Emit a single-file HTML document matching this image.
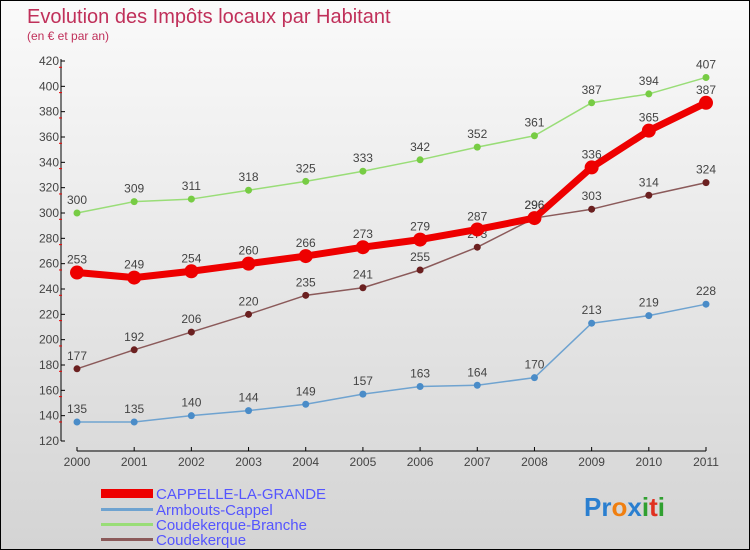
<!DOCTYPE html>
<html><head><meta charset="utf-8"><style>
body{margin:0}
#c{width:748px;height:548px;border:1px solid #000;background:linear-gradient(#fafafa,#d4d4d4);position:relative;font-family:"Liberation Sans",sans-serif;overflow:hidden}
</style></head><body>
<div id="c">
<svg id="s" width="748" height="548" xmlns="http://www.w3.org/2000/svg">
<text x="26" y="22" font-size="20" fill="#c0305a">Evolution des Impôts locaux par Habitant</text>
<text x="26" y="39" font-size="12" fill="#c0305a">(en € et par an)</text>
<g id="axes"></g><g id="series"></g>
<g font-size="15" fill="#5555ff">
<rect x="100" y="488" width="52" height="9" fill="#e00"/>
<text x="155" y="498">CAPPELLE-LA-GRANDE</text>
<rect x="100" y="507" width="52" height="3" fill="#6fa3d0"/>
<text x="155" y="514">Armbouts-Cappel</text>
<rect x="100" y="522" width="52" height="3" fill="#99dd77"/>
<text x="155" y="529">Coudekerque-Branche</text>
<rect x="100" y="537" width="52" height="3" fill="#8b5a5a"/>
<text x="155" y="544">Coudekerque</text>
</g>
<text x="583" y="515" font-size="26" font-weight="bold"><tspan fill="#2a7fd0">Pr</tspan><tspan fill="#f07f10">o</tspan><tspan fill="#2a7fd0">x</tspan><tspan fill="#30a030">i</tspan><tspan fill="#e03020">t</tspan><tspan fill="#30a030">i</tspan></text>
</svg></div>
<script>
const years=[2000,2001,2002,2003,2004,2005,2006,2007,2008,2009,2010,2011];
const cappelle=[253,249,254,260,266,273,279,287,296,336,365,387];
const armbouts=[135,135,140,144,149,157,163,164,170,213,219,228];
const branche=[300,309,311,318,325,333,342,352,361,387,394,407];
const coudekerque=[177,192,206,220,235,241,255,273,296,303,314,324];
const yTicks=[120,140,160,180,200,220,240,260,280,300,320,340,360,380,400,420];
const NS="http://www.w3.org/2000/svg";
const X=i=>76+i*(705-76)/11;
const Y=v=>440-(v-120)*(440-60)/300;
function mk(t,a,p){const e=document.createElementNS(NS,t);for(const k in a)e.setAttribute(k,a[k]);p.appendChild(e);return e;}
const ax=document.getElementById('axes');
let l=mk('line',{x1:60,y1:58,x2:60,y2:440,stroke:'#000'},ax);


l=mk('line',{x1:76,y1:450,x2:705,y2:450,stroke:'#000'},ax);


yTicks.forEach((v,k)=>{
 mk('line',{x1:60,y1:Y(v),x2:64,y2:Y(v),stroke:'#000'},ax);
 if(k>0) mk('line',{x1:58,y1:Y(v)+6.3,x2:61,y2:Y(v)+6.3,stroke:'#e00'},ax);
 const t=mk('text',{x:58,y:Y(v)+4,'text-anchor':'end','font-size':12,fill:'#444'},ax);
 t.textContent=v;
 
 
});
years.forEach((y,i)=>{
 mk('line',{x1:X(i),y1:446,x2:X(i),y2:450,stroke:'#000'},ax);
 const t=mk('text',{x:X(i),y:465,'text-anchor':'middle','font-size':12,fill:'#444'},ax);
 t.textContent=y;
 
 
});
const sg=document.getElementById('series');
function series(d,col,w,r,dot,name){
 const g=mk('g',{},sg);
 
 
 const p=mk('polyline',{points:d.map((v,i)=>X(i)+','+Y(v)).join(' '),fill:'none',stroke:col,'stroke-width':w,'stroke-linejoin':'round'},g);
 
 
 d.forEach((v,i)=>{
  const c=mk('circle',{cx:X(i),cy:Y(v),r:r,fill:dot},g);
  
  
  const t=mk('text',{x:X(i),y:Y(v)-9,'text-anchor':'middle','font-size':12,fill:'#444'},g);
  t.textContent=v;
  
  
 });
}
series(branche,'#99dd77',1.5,3.5,'#77cc44','coudekerque-branche');
series(armbouts,'#6fa3d0',1.5,3.5,'#4a8cc8','armbouts-cappel');
series(coudekerque,'#8b5a5a',1.5,3.5,'#6b2020','coudekerque');
series(cappelle,'#ee0000',7,7,'#ee0000','cappelle-la-grande');
</script>
</body></html>
